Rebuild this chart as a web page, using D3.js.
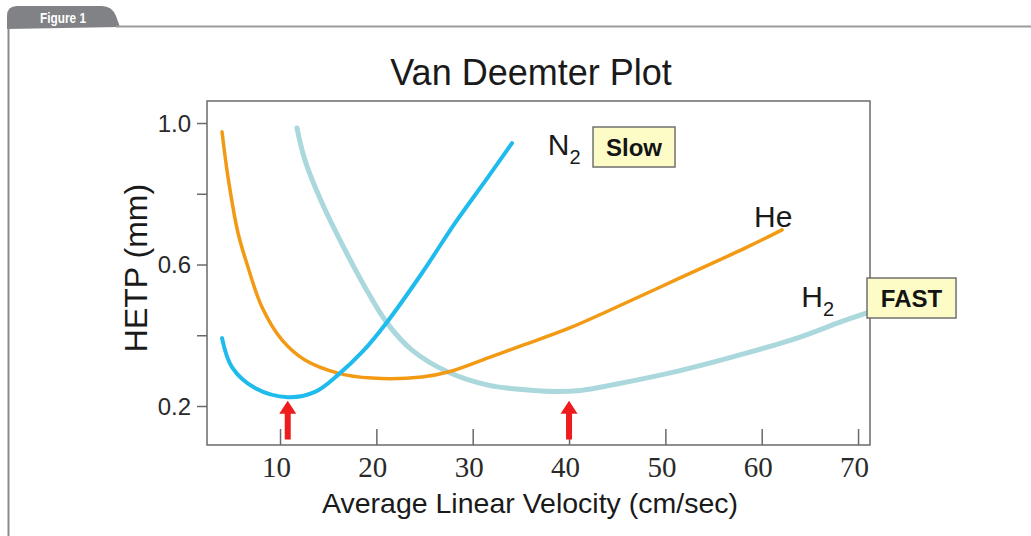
<!DOCTYPE html>
<html>
<head>
<meta charset="utf-8">
<script src="https://cdn.jsdelivr.net/npm/d3@7"></script>
<style>
  html, body { margin: 0; padding: 0; background: #fff; }
  svg { display: block; }
</style>
</head>
<body>
<svg id="chart" width="1031" height="536"></svg>
<script>
// ---- data ----
const xTicks = [10, 20, 30, 40, 50, 60, 70];
const yTicks = [0.2, 0.4, 0.6, 0.8, 1.0];
const yTickLabels = ["0.2", "", "0.6", "", "1.0"];

const n2Values = [
  [3.98, 0.392], [5.01, 0.310], [7.40, 0.251], [10.83, 0.225], [13.63, 0.240],
  [16.02, 0.288], [18.51, 0.352], [21.10, 0.437], [24.74, 0.576], [28.16, 0.717],
  [31.59, 0.847], [34.08, 0.943]
];
const heValues = [
  [3.98, 0.975], [4.60, 0.847], [5.64, 0.689], [6.67, 0.593], [8.12, 0.480],
  [10.20, 0.387], [12.59, 0.330], [16.02, 0.293], [19.55, 0.279], [24.74, 0.282],
  [27.44, 0.296], [31.59, 0.336], [35.43, 0.374], [40.0, 0.420], [44.56, 0.475],
  [51.52, 0.562], [58.48, 0.649], [62.11, 0.698]
];
const h2Values = [
  [11.76, 0.986], [12.59, 0.895], [14.36, 0.774], [16.75, 0.641], [18.82, 0.536],
  [21.10, 0.435], [23.70, 0.358], [27.44, 0.296], [31.59, 0.259], [35.43, 0.246],
  [38.5, 0.241], [41.2, 0.244], [44.56, 0.260], [51.52, 0.300], [58.48, 0.350],
  [63.98, 0.395], [68.13, 0.437], [70.93, 0.463]
];
const optimumVelocities = [10.8, 40.0];

// ---- layout ----
const svg = d3.select("#chart");
const x = d3.scaleLinear().domain([2.42, 71.24]).range([207, 870]);
const y = d3.scaleLinear().domain([0.0898, 1.0622]).range([445, 101]);

// figure frame
const frameGray = "#808285";
svg.append("path")
  .attr("d", "M7,29 L7,16 Q7,6 17,6 L102,6 Q112,6 116,16 L120,27 Z")
  .attr("fill", frameGray);
svg.append("line").attr("x1", 116).attr("x2", 1031).attr("y1", 26.5).attr("y2", 26.5)
  .attr("stroke", "#9a9b9d").attr("stroke-width", 2);
svg.append("line").attr("x1", 8.5).attr("x2", 8.5).attr("y1", 28).attr("y2", 536)
  .attr("stroke", "#8a8b8d").attr("stroke-width", 2);
svg.append("text").attr("x", 40).attr("y", 22.5)
  .attr("font-family", "'Liberation Sans', Arial, sans-serif")
  .attr("font-weight", "bold").attr("font-size", 15).attr("fill", "#fff")
  .attr("textLength", 46).attr("lengthAdjust", "spacingAndGlyphs")
  .text("Figure 1");

// title
svg.append("text").attr("x", 531).attr("y", 85).attr("text-anchor", "middle")
  .attr("font-family", "'Liberation Sans', Arial, sans-serif").attr("font-size", 36)
  .attr("fill", "#1a1a1a").text("Van Deemter Plot");

// plot frame
const axisColor = "#6a6a6a";
svg.append("rect")
  .attr("x", x.range()[0]).attr("y", y.range()[1])
  .attr("width", x.range()[1] - x.range()[0]).attr("height", y.range()[0] - y.range()[1])
  .attr("fill", "none").attr("stroke", axisColor).attr("stroke-width", 1.5);

// y axis
const yAxis = d3.axisLeft(y).tickValues(yTicks)
  .tickFormat((d, i) => yTickLabels[i]).tickSize(10).tickPadding(6);
const gy = svg.append("g").attr("transform", `translate(${x.range()[0]},0)`).call(yAxis);
gy.select(".domain").remove();
gy.selectAll(".tick line").attr("stroke", axisColor).attr("stroke-width", 1.5);
gy.selectAll(".tick text").attr("font-family", "'Liberation Sans', Arial, sans-serif")
  .attr("font-size", 24).attr("fill", "#2a2a2a").attr("dy", "0.35em");

// x axis (ticks inside)
const xAxis = d3.axisBottom(x).tickValues(xTicks).tickFormat(d3.format("d"))
  .tickSize(-16).tickPadding(0);
const gx = svg.append("g").attr("transform", `translate(0,${y.range()[0]})`).call(xAxis);
gx.select(".domain").remove();
gx.selectAll(".tick line").attr("stroke", axisColor).attr("stroke-width", 1.5);
gx.selectAll(".tick text").attr("font-family", "'Liberation Serif', 'Times New Roman', serif")
  .attr("font-size", 29).attr("fill", "#2a2a2a").attr("y", 32).attr("dy", 0).attr("dx", -4);

// axis titles
svg.append("text").attr("x", 530).attr("y", 513).attr("text-anchor", "middle")
  .attr("font-family", "'Liberation Sans', Arial, sans-serif").attr("font-size", 28.5)
  .attr("fill", "#1a1a1a").text("Average Linear Velocity (cm/sec)");
svg.append("text").attr("transform", "translate(147,268) rotate(-90)").attr("text-anchor", "middle")
  .attr("font-family", "'Liberation Sans', Arial, sans-serif").attr("font-size", 32)
  .attr("fill", "#1a1a1a").text("HETP (mm)");

// curves
const line = d3.line().x(d => x(d[0])).y(d => y(d[1])).curve(d3.curveCatmullRom.alpha(0.5));
svg.append("path").datum(h2Values).attr("d", line).attr("fill", "none")
  .attr("stroke", "#abd8dc").attr("stroke-width", 5).attr("stroke-linecap", "round");
svg.append("path").datum(heValues).attr("d", line).attr("fill", "none")
  .attr("stroke", "#f39a14").attr("stroke-width", 3.5).attr("stroke-linecap", "round");
svg.append("path").datum(n2Values).attr("d", line).attr("fill", "none")
  .attr("stroke", "#1ebbec").attr("stroke-width", 4).attr("stroke-linecap", "round");

// red arrows at optimum velocities
const arrowTip = 0.215, arrowBase = 0.105;
optimumVelocities.forEach(v => {
  const cx = x(v), ty = y(arrowTip), by = y(arrowBase);
  const hw = 8.5, sw = 3, hh = 13;
  svg.append("path")
    .attr("d", `M${cx},${ty} L${cx + hw},${ty + hh} L${cx + sw},${ty + hh} L${cx + sw},${by} L${cx - sw},${by} L${cx - sw},${ty + hh} L${cx - hw},${ty + hh} Z`)
    .attr("fill", "#ee1c1c");
});

// series labels
const labelFont = "'Liberation Sans', Arial, sans-serif";
function gasLabel(px, py, main, sub) {
  const t = svg.append("text").attr("x", px).attr("y", py)
    .attr("font-family", labelFont).attr("font-size", 30).attr("fill", "#1a1a1a");
  t.append("tspan").text(main);
  if (sub) t.append("tspan").attr("font-size", 20).attr("dy", 9).text(sub);
}
gasLabel(x(37.8), y(0.9095), "N", "2");
gasLabel(x(59.2), y(0.706), "He", null);
gasLabel(x(64.1), y(0.480), "H", "2");

function speedBox(x0, y0, x1, y1, label) {
  svg.append("rect").attr("x", x(x0)).attr("y", y(y0))
    .attr("width", x(x1) - x(x0)).attr("height", y(y1) - y(y0))
    .attr("fill", "#fdfcc6").attr("stroke", "#707070").attr("stroke-width", 1.5);
  svg.append("text").attr("x", (x(x0) + x(x1)) / 2).attr("y", (y(y0) + y(y1)) / 2)
    .attr("dy", "0.36em").attr("text-anchor", "middle")
    .attr("font-family", labelFont).attr("font-weight", "bold").attr("font-size", 24)
    .attr("fill", "#141414").text(label);
}
speedBox(42.49, 0.9887, 51.0, 0.8756, "Slow");
speedBox(70.93, 0.5618, 80.17, 0.4488, "FAST");
</script>
</body>
</html>
